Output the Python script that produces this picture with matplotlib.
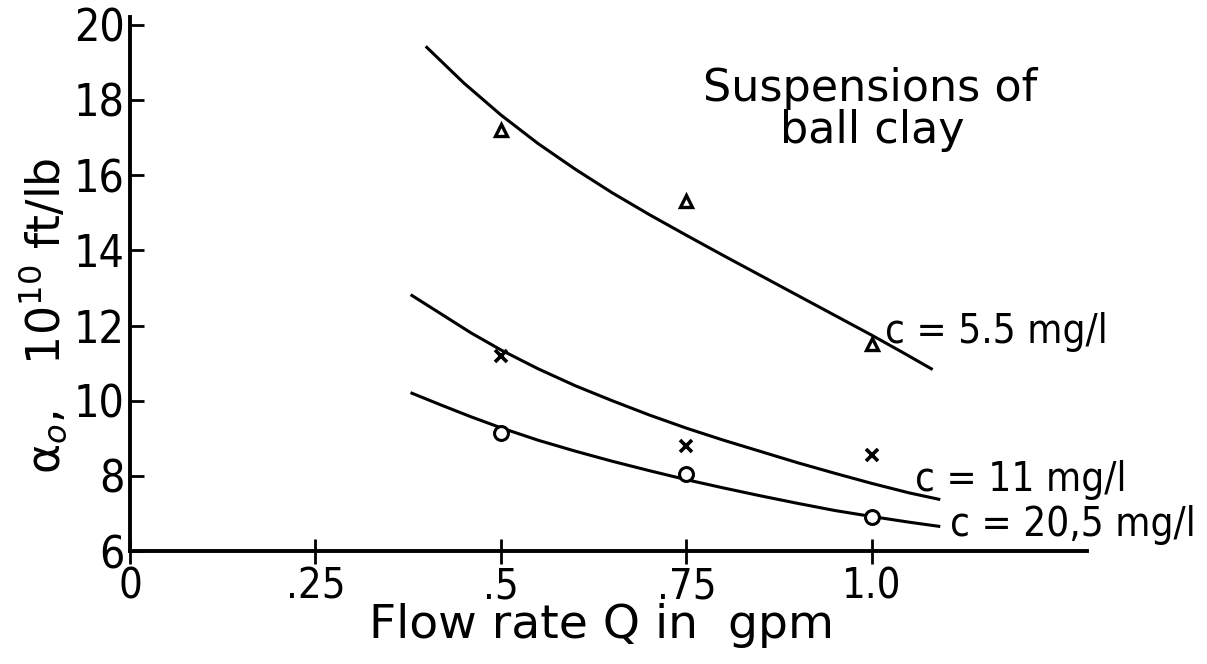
import numpy as np
import matplotlib
matplotlib.use("Agg")
import matplotlib.pyplot as plt

plt.rcParams['font.family'] = ['DejaVu Sans']

# measured specific resistance at three flow rates
flow = [0.5, 0.75, 1.0]
alpha_55 = [17.2, 15.3, 11.5]    # c = 5.5 mg/l
alpha_11 = [11.2, 8.8, 8.55]     # c = 11 mg/l
alpha_205 = [9.15, 8.05, 6.9]    # c = 20.5 mg/l

# smoothed curves drawn through each set
q_55 = [0.40, 0.45, 0.50, 0.55, 0.60, 0.65, 0.70, 0.75, 0.80, 0.85, 0.90, 0.95, 1.00, 1.04, 1.08]
fit_55 = [19.4, 18.45, 17.6, 16.84, 16.16, 15.53, 14.95, 14.4, 13.86, 13.33, 12.8, 12.27, 11.74, 11.3, 10.85]
q_11 = [0.38, 0.42, 0.46, 0.50, 0.55, 0.60, 0.65, 0.70, 0.75, 0.80, 0.85, 0.90, 0.95, 1.00, 1.05, 1.09]
fit_11 = [12.8, 12.3, 11.8, 11.35, 10.85, 10.4, 10.0, 9.62, 9.27, 8.95, 8.65, 8.35, 8.07, 7.8, 7.55, 7.38]
q_205 = [0.38, 0.42, 0.46, 0.50, 0.55, 0.60, 0.65, 0.70, 0.75, 0.80, 0.85, 0.90, 0.95, 1.00, 1.05, 1.09]
fit_205 = [10.2, 9.88, 9.57, 9.28, 8.95, 8.66, 8.39, 8.14, 7.9, 7.68, 7.47, 7.27, 7.08, 6.92, 6.77, 6.66]

xticks = [0, 0.25, 0.5, 0.75, 1.0]
xticklabels = ['0', '.25', '.5', '.75', '1.0']
yticks = [6, 8, 10, 12, 14, 16, 18, 20]

fig = plt.figure(figsize=(12.07, 6.64), dpi=100)
ax = fig.add_axes([0.1077, 0.170, 0.793, 0.804])

lw = 2.2
ax.plot(q_55, fit_55, color='k', lw=lw)
ax.plot(q_11, fit_11, color='k', lw=lw)
ax.plot(q_205, fit_205, color='k', lw=lw)

ax.plot(flow, alpha_55, linestyle='none', marker='^', ms=9, mfc='white', mec='k', mew=2.4)
ax.plot(flow, alpha_11, linestyle='none', marker='x', ms=9, mec='k', mew=2.6)
ax.plot(flow, alpha_205, linestyle='none', marker='o', ms=10, mfc='white', mec='k', mew=2.2, zorder=3)

ax.set_xlim(0, 1.29)
ax.set_ylim(6, 20.2)
for s in ['top', 'right']:
    ax.spines[s].set_visible(False)
for s in ['left', 'bottom']:
    ax.spines[s].set_linewidth(2.8)

ax.set_xticks(xticks)
ax.set_xticklabels(xticklabels)
ax.set_yticks(yticks)
ax.tick_params(axis='x', direction='inout', length=18, width=2, labelsize=30, pad=1)
ax.tick_params(axis='y', direction='in', length=10, width=2, labelsize=32, pad=4)
for lab in ax.get_xticklabels() + ax.get_yticklabels():
    lab.set_fontstretch('condensed')

ax.set_xlabel('Flow rate Q in  gpm', fontsize=34, va='top')
ax.xaxis.set_label_coords(0.493, -0.098)
ax.set_ylabel('α$_o$,   10$^{10}$ ft/lb', fontsize=33, va='center')
ax.yaxis.set_label_coords(-0.091, 0.44)

ax.text(0.997, 18.3, 'Suspensions of', fontsize=32, ha='center', va='center')
ax.text(1.0, 17.2, 'ball clay', fontsize=32, ha='center', va='center')
lbl = dict(fontsize=29, ha='left', va='baseline', fontstretch='condensed', clip_on=False)
ax.text(1.017, 11.53, 'c = 5.5 mg/l', **lbl)
ax.text(1.058, 7.6, 'c = 11 mg/l', **lbl)
ax.text(1.105, 6.4, 'c = 20,5 mg/l', **lbl)

fig.savefig('out.png', dpi=100)
